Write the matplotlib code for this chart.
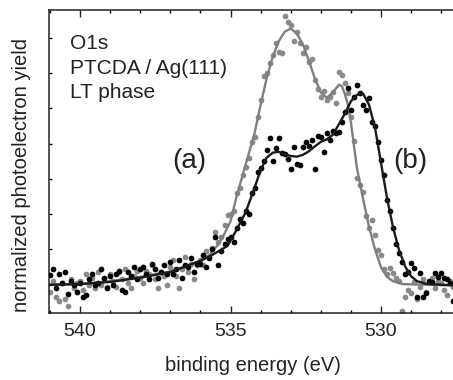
import numpy as np
import matplotlib
matplotlib.use("Agg")
import matplotlib.pyplot as plt
from matplotlib.ticker import MultipleLocator

plt.rcParams['font.family'] = ['Liberation Sans', 'DejaVu Sans']

# measured energy grid (eV), 0.1 eV steps from 541.0 down to 527.6
energy = np.round(np.arange(541.0, 527.55, -0.1), 1)

# (a) gray dots
dots_a = [
    -0.2, 0.1, -0.35, -0.45, 0.05, -0.4, -0.6, 0.15, -0.1, 0.05,
    0.1, -0.15, 0.3, 0.0, 0.2, -0.1, 0.35, 0.0, 0.15, -0.05,
    0.3, 0.1, -0.05, 0.35, 0.15, 0.45, 0.05, -0.1, 0.25, 0.4,
    0.2, 0.05, 0.4, 0.3, 0.55, 0.15, -0.1, 0.35, 0.25, 0.0,
    0.5, 0.7, 0.25, -0.1, 0.45, 0.8, 0.35, 0.6, 0.15, 0.55,
    0.7, 0.55, 0.95, 0.8, 1.05, 1.5, 1.2, 1.35, 1.7, 1.98,
    2.0, 2.1, 2.6, 2.75, 3.1, 3.35, 3.6, 4.05, 4.2, 4.75,
    5.24, 5.92, 6.0, 6.28, 6.51, 6.86, 6.6, 6.57, 7.62, 7.45,
    7.37, 6.92, 7.17, 6.85, 6.57, 6.75, 6.3, 6.4, 5.8, 5.55,
    5.33, 5.5, 5.24, 5.33, 5.45, 5.15, 6.03, 5.95, 5.72, 5.44,
    4.75, 4.06, 3.03, 2.83, 2.63, 1.95, 1.6, 1.84, 1.42, 0.99,
    0.85, 0.45, 0.3, 0.48, 0.34, 0.2, 0.1, -0.75, -0.34, -0.14,
    -0.24, 0.08, -0.4, -0.05, 0.15, -0.2, 0.05, 0.2, -0.1, 0.1,
    0.05, -0.14, -0.28, 0.1, -0.05,
]

# (b) black dots
dots_b = [
    0.28, 0.45, -0.1, 0.3, 0.05, 0.35, -0.25, 0.1, 0.0, -0.2,
    0.05, -0.35, -0.3, 0.15, 0.3, 0.0, 0.05, 0.45, 0.2, -0.1,
    0.25, 0.0, 0.3, 0.4, -0.15, -0.2, 0.35, 0.25, 0.5, 0.15,
    0.45, 0.5, 0.3, 0.15, 0.6, 0.45, 0.2, 0.35, 0.55, 0.3,
    0.65, 0.3, 0.45, 0.7, 0.2, 0.55, 0.5, 0.75, 0.35, 0.6,
    0.6, 0.85, 0.5, 0.75, 1.0, 1.36, 0.57, 0.95, 1.15, 1.3,
    1.35, 1.2, 1.6, 1.85, 1.75, 2.1, 2.0, 2.6, 2.75, 3.2,
    3.3, 3.5, 3.82, 4.15, 3.51, 3.88, 4.16, 3.73, 3.71, 3.55,
    3.29, 3.91, 3.43, 3.4, 3.91, 4.05, 3.92, 4.1, 3.29, 4.22,
    4.2, 3.77, 4.3, 4.1, 4.35, 4.29, 4.34, 4.6, 4.9, 5.57,
    4.96, 5.33, 5.65, 5.43, 5.1, 4.96, 5.3, 4.6, 4.5, 4.05,
    3.54, 3.1, 2.4, 2.1, 1.6, 1.15, 0.9, 0.65, 0.3, 0.37,
    0.62, 0.47, -0.34, 0.34, -0.34, -0.24, 0.1, 0.08, 0.33, 0.23,
    0.34, 0.2, 0.15, 0.06, -0.47,
]

# fitted curves
fit_a_e = [541.0, 540.0, 539.0, 538.0, 537.0, 536.5, 536.0, 535.7, 535.4, 535.2,
           535.0, 534.8, 534.6, 534.4, 534.2, 534.0, 533.8, 533.6, 533.4, 533.2,
           533.0, 532.8, 532.6, 532.4, 532.2, 532.0, 531.8, 531.6, 531.4, 531.3,
           531.2, 531.1, 531.0, 530.8, 530.6, 530.4, 530.2, 530.0, 529.8, 529.6,
           529.3, 528.5, 527.4]
fit_a_y = [0.0, 0.02, 0.1, 0.22, 0.38, 0.52, 0.68, 0.85, 1.15, 1.45,
           1.8, 2.5, 3.1, 3.7, 4.3, 5.1, 5.85, 6.45, 6.9, 7.17,
           7.26, 7.12, 6.82, 6.35, 5.85, 5.45, 5.3, 5.45, 5.67, 5.63,
           5.4, 5.1, 4.6, 3.3, 2.45, 1.65, 1.0, 0.5, 0.22, 0.1,
           0.02, 0.0, -0.02]

fit_b_e = [541.0, 540.0, 539.0, 538.0, 537.0, 536.5, 536.0, 535.7, 535.4, 535.1,
           534.8, 534.5, 534.2, 534.0, 533.8, 533.6, 533.4, 533.2, 533.0, 532.8,
           532.6, 532.4, 532.2, 532.0, 531.8, 531.6, 531.4, 531.2, 531.0, 530.8,
           530.6, 530.4, 530.2, 530.0, 529.8, 529.6, 529.4, 529.2, 529.0, 528.8,
           528.5, 528.0, 527.4]
fit_b_y = [0.0, 0.02, 0.08, 0.2, 0.36, 0.52, 0.68, 0.8, 0.95, 1.1,
           1.56, 2.05, 2.75, 3.25, 3.6, 3.74, 3.77, 3.7, 3.65, 3.63,
           3.68, 3.78, 3.92, 4.05, 4.12, 4.25, 4.55, 4.85, 5.2, 5.38,
           5.42, 5.1, 4.45, 3.45, 2.45, 1.62, 0.98, 0.52, 0.24, 0.1,
           0.03, 0.0, -0.02]

gray_dot = '#8a8a8a'
gray_line = '#7f7f7f'
black_dot = '#000000'
black_line = '#1a1a1a'

W, H = 453, 380
fig = plt.figure(figsize=(W / 100, H / 100), dpi=100)
ax = fig.add_axes([49 / W, (H - 313) / H, (457.5 - 49) / W, (313 - 9.5) / H])

ax.scatter(energy, dots_a, s=17, color=gray_dot, lw=0, zorder=2)
ax.plot(fit_a_e, fit_a_y, color=gray_line, lw=1.7, zorder=3)
ax.scatter(energy, dots_b, s=17, color=black_dot, lw=0, zorder=4)
ax.plot(fit_b_e, fit_b_y, color=black_line, lw=1.7, zorder=5)

ax.set_xlim(541.03, 527.46)
ax.set_ylim(-0.8, 7.8)

ax.xaxis.set_major_locator(MultipleLocator(5))
ax.xaxis.set_minor_locator(MultipleLocator(1))
ax.yaxis.set_major_locator(MultipleLocator(1))
ax.tick_params(axis='x', which='major', direction='in', length=5, width=1,
               top=True, labelsize=14, pad=7, colors='#222222')
ax.tick_params(axis='x', which='minor', direction='in', length=2.5, width=1, top=True)
ax.tick_params(axis='y', which='major', direction='in', length=2.5, width=1,
               labelleft=False)
for sp in ax.spines.values():
    sp.set_linewidth(1.1)
    sp.set_color('#222222')

ax.set_xlabel('binding energy (eV)', fontsize=14.5, color='#222222', labelpad=12)
fig.text(21.5 / W, (H - 175.5) / H, 'normalized photoelectron yield',
         rotation=90, fontsize=14.5, color='#222222', ha='center', va='center')

fig.text(70 / W, (H - 49) / H, 'O1s', fontsize=15, color='#222222', va='baseline')
fig.text(70 / W, (H - 74) / H, 'PTCDA / Ag(111)', fontsize=15, color='#222222', va='baseline')
fig.text(70 / W, (H - 98) / H, 'LT phase', fontsize=15, color='#222222', va='baseline')

fig.text(189.5 / W, (H - 168) / H, '(a)', fontsize=20, color='#222222', ha='center', va='baseline')
fig.text(410.5 / W, (H - 168) / H, '(b)', fontsize=20, color='#222222', ha='center', va='baseline')

fig.savefig('out.png', dpi=100)
